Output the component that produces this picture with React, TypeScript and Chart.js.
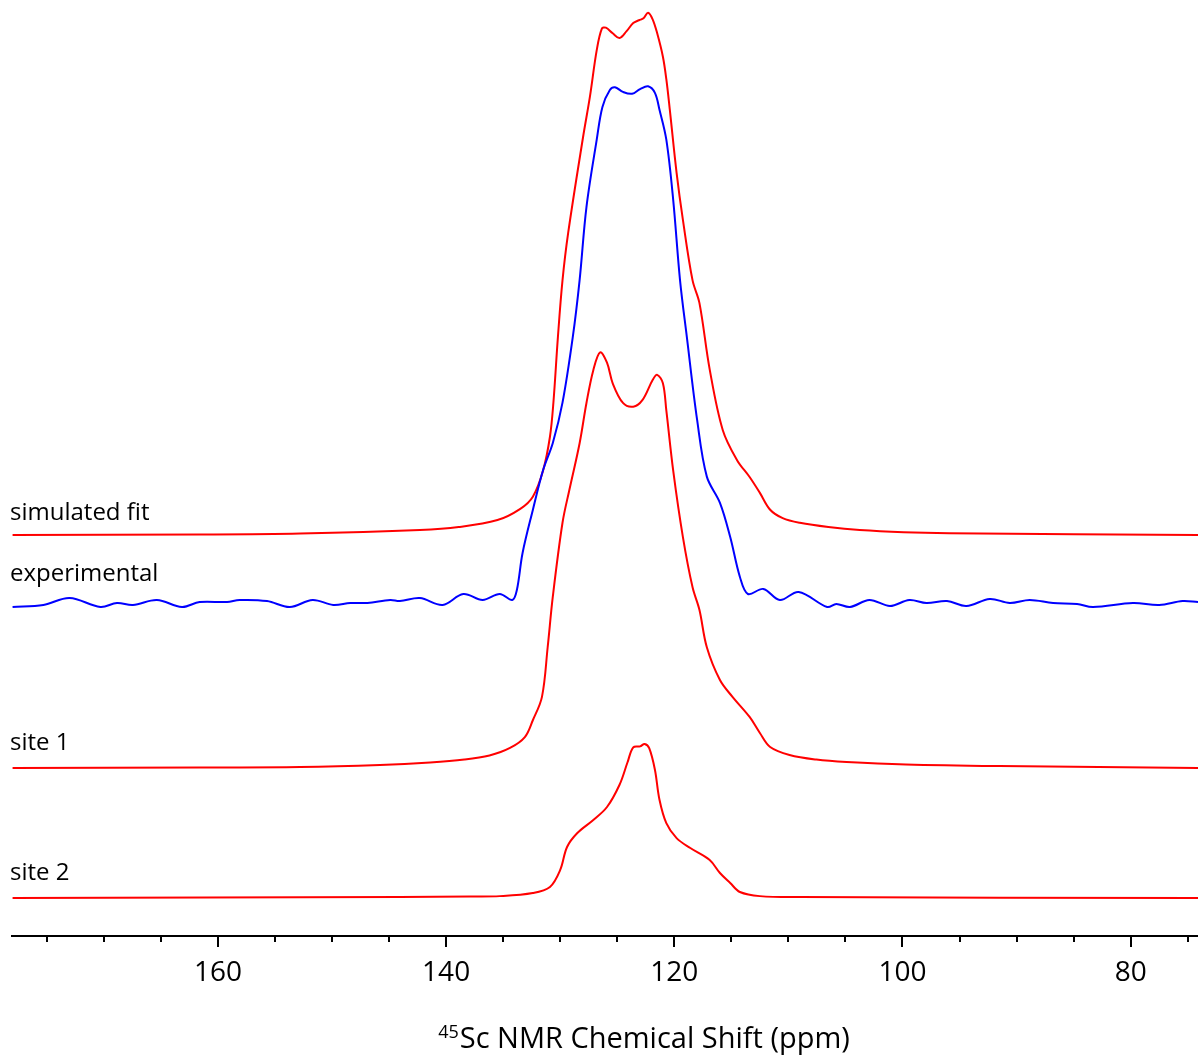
import React, { useEffect, useRef } from 'react';
import { Chart, registerables } from 'chart.js';

Chart.register(...registerables);

// Axis range (ppm), reversed as in NMR convention
const X_LEFT = 178.05;
const X_RIGHT = 74.1;
const MAJOR_TICKS = [160, 140, 120, 100, 80];
const MINOR_STEP = 5;

// Vertical offsets of the stacked traces (arbitrary intensity units, 0..100 plot)
const SIM_OFFSET = 42.84;
const EXP_OFFSET = 35.58;
const S1_OFFSET = 17.95;
const S2_OFFSET = 4.06;

// simulated fit
const SIM_PPM = [178.0, 161.6, 152.8, 142.3, 138.9, 135.5, 133.5, 132.4, 131.5, 130.9, 130.6, 130.2, 129.8, 129.3, 128.0, 127.4, 126.8, 126.35, 126.0, 125.4, 124.8, 124.2, 123.6, 123.1, 122.7, 122.3, 121.9, 121.5, 121.0, 120.7, 120.4, 119.8, 119.25, 118.4, 117.8, 116.9, 115.75, 114.5, 113.4, 112.5, 111.6, 110.5, 109.0, 106.5, 103.75, 99.9, 95.9, 74.1];
const SIM_INT = [0, 0.05, 0.15, 0.53, 0.85, 1.6, 2.8, 4.1, 6.9, 10.5, 14.1, 21.2, 27.2, 32.3, 42.5, 46.8, 51.8, 54.1, 54.2, 53.6, 53.1, 53.8, 54.7, 55.0, 55.2, 55.8, 55.1, 53.6, 51.1, 48.7, 45.5, 38.7, 33.7, 27.2, 24.8, 17.7, 11.2, 8.0, 6.2, 4.5, 2.7, 1.8, 1.3, 0.85, 0.53, 0.3, 0.2, 0];

// experimental
const EXP_PPM = [178.0, 175.3, 173.0, 170.3, 168.85, 167.45, 165.35, 163.15, 161.6, 159.2, 158.1, 155.7, 153.7, 151.7, 149.9, 148.4, 146.9, 144.9, 144.05, 142.3, 140.3, 138.5, 136.8, 135.3, 134.2, 133.8, 133.3, 132.4, 131.5, 130.65, 129.8, 128.9, 128.3, 127.7, 126.8, 126.3, 125.65, 125.2, 124.5, 123.7, 123.0, 122.3, 121.7, 121.3, 120.7, 120.1, 119.5, 118.9, 118.0, 117.15, 116.0, 115.1, 114.25, 113.55, 112.2, 110.75, 109.1, 106.6, 105.8, 104.6, 102.9, 101.1, 99.4, 97.9, 96.1, 94.4, 92.35, 90.6, 88.85, 86.8, 84.7, 83.3, 79.8, 77.5, 75.45, 74.1];
const EXP_INT = [-0.43, -0.21, 0.53, -0.43, 0, -0.21, 0.32, -0.43, 0.1, 0.1, 0.32, 0.21, -0.43, 0.32, -0.21, 0, 0, 0.32, 0.21, 0.53, -0.21, 0.96, 0.32, 0.96, 0.32, 1.39, 5.34, 9.94, 14.2, 17.1, 21.4, 28.4, 34.5, 42.3, 49.5, 53.0, 54.8, 55.1, 54.6, 54.4, 54.9, 55.2, 54.5, 52.7, 49.5, 43.1, 34.5, 28.4, 19.55, 13.5, 10.7, 7.05, 2.78, 0.96, 1.5, 0.32, 1.18, -0.43, -0.1, -0.43, 0.32, -0.32, 0.32, 0, 0.21, -0.32, 0.43, 0, 0.32, 0, -0.1, -0.43, 0, -0.21, 0.21, 0.1];

// site 1
const S1_PPM = [178.0, 161.6, 152.8, 145.8, 141.4, 138.4, 136.2, 134.4, 133.1, 132.4, 131.6, 131.1, 130.65, 129.8, 129.2, 128.3, 127.7, 127.1, 126.5, 125.9, 125.4, 124.5, 123.6, 122.8, 121.9, 121.5, 121.0, 120.7, 120.1, 119.25, 118.4, 117.8, 117.15, 116.0, 114.9, 113.4, 112.5, 111.6, 109.9, 107.55, 104.9, 99.7, 91.5, 74.1];
const S1_INT = [0, 0.05, 0.1, 0.32, 0.59, 0.9, 1.34, 2.14, 3.3, 5.1, 7.6, 12.9, 18.3, 26.2, 29.7, 34.7, 39.0, 42.5, 44.4, 43.3, 41.1, 39.0, 38.6, 39.3, 41.45, 42.0, 41.1, 38.2, 31.8, 24.7, 19.3, 16.9, 12.9, 9.4, 7.6, 5.45, 3.74, 2.24, 1.39, 0.9, 0.64, 0.37, 0.2, 0];

// site 2
const S2_PPM = [178.0, 144.05, 137.9, 135.3, 132.4, 130.9, 130.0, 129.4, 128.5, 127.1, 125.9, 124.8, 124.1, 123.6, 123.0, 122.6, 122.2, 121.7, 121.3, 120.7, 119.8, 118.6, 116.9, 116.0, 115.1, 114.25, 112.5, 109.0, 74.1];
const S2_INT = [0, 0.1, 0.16, 0.2, 0.53, 1.18, 3.0, 5.45, 6.94, 8.33, 9.72, 12.1, 14.5, 16.1, 16.2, 16.45, 16.0, 13.7, 10.5, 8.0, 6.4, 5.34, 4.06, 2.67, 1.6, 0.64, 0.2, 0.1, 0];

const TRACE_LABELS = ['simulated fit', 'experimental', 'site 1', 'site 2'];
const AXIS_TITLE_SUP = '45';
const AXIS_TITLE_MAIN = 'Sc NMR Chemical Shift (ppm)';

const FONT = '"Open Sans", "Noto Sans", "DejaVu Sans", sans-serif';
const RED = '#ff0000';
const BLUE = '#0000ff';

function toPoints(ppm: number[], ints: number[], offset: number) {
  return ppm.map((p, i) => ({ x: p, y: ints[i] + offset }));
}

const decorPlugin = {
  id: 'nmrDecor',
  afterDraw(chart: any) {
    const ctx: CanvasRenderingContext2D = chart.ctx;
    const xs = chart.scales.x;
    const ys = chart.scales.y;
    const axisY = chart.chartArea.bottom;
    ctx.save();
    // tick marks
    ctx.strokeStyle = '#000';
    ctx.lineWidth = 2;
    const start = Math.ceil(X_RIGHT / MINOR_STEP) * MINOR_STEP;
    for (let v = start; v <= X_LEFT; v += MINOR_STEP) {
      const px = Math.round(xs.getPixelForValue(v));
      const len = MAJOR_TICKS.includes(v) ? 11 : 6;
      ctx.beginPath();
      ctx.moveTo(px, axisY);
      ctx.lineTo(px, axisY + len);
      ctx.stroke();
    }
    // axis title with superscript
    ctx.fillStyle = '#000';
    ctx.textBaseline = 'alphabetic';
    ctx.textAlign = 'left';
    const supFont = `18px ${FONT}`;
    const mainFont = `29px ${FONT}`;
    ctx.font = supFont;
    const wSup = ctx.measureText(AXIS_TITLE_SUP).width;
    ctx.font = mainFont;
    const wMain = ctx.measureText(AXIS_TITLE_MAIN).width;
    const total = wSup + 1 + wMain;
    const cx = (chart.chartArea.left + chart.chartArea.right) / 2 + 39;
    const x0 = cx - total / 2;
    const base = axisY + 112;
    ctx.font = supFont;
    ctx.fillText(AXIS_TITLE_SUP, x0, base - 10);
    ctx.font = mainFont;
    ctx.fillText(AXIS_TITLE_MAIN, x0 + wSup + 1, base);
    // trace labels
    ctx.font = `24px ${FONT}`;
    const offs = [SIM_OFFSET, EXP_OFFSET, S1_OFFSET, S2_OFFSET];
    const dys = [-15, -22, -18, -18];
    TRACE_LABELS.forEach((t, i) => {
      ctx.fillText(t, 10, ys.getPixelForValue(offs[i]) + dys[i]);
    });
    ctx.restore();
  },
};

export default function App() {
  const ref = useRef<HTMLCanvasElement>(null);
  useEffect(() => {
    const canvas = ref.current;
    if (!canvas) return;
    const chart = new Chart(canvas, {
      type: 'line',
      data: {
        datasets: [
          { label: 'site 2', data: toPoints(S2_PPM, S2_INT, S2_OFFSET), borderColor: RED },
          { label: 'site 1', data: toPoints(S1_PPM, S1_INT, S1_OFFSET), borderColor: RED },
          { label: 'experimental', data: toPoints(EXP_PPM, EXP_INT, EXP_OFFSET), borderColor: BLUE },
          { label: 'simulated fit', data: toPoints(SIM_PPM, SIM_INT, SIM_OFFSET), borderColor: RED },
        ],
      },
      options: {
        animation: false,
        responsive: false,
        events: [],
        layout: { padding: { left: 12, right: 0, top: 0, bottom: 0 } },
        plugins: { legend: { display: false }, tooltip: { enabled: false }, title: { display: false } },
        elements: {
          point: { radius: 0, hoverRadius: 0 },
          line: { borderWidth: 2, tension: 0.35, fill: false },
        },
        scales: {
          x: {
            type: 'linear',
            reverse: true,
            min: X_RIGHT,
            max: X_LEFT,
            grid: { display: false, drawTicks: false },
            border: { display: true, color: '#000', width: 2 },
            ticks: {
              color: '#000',
              font: { family: FONT, size: 28 },
              padding: 20,
              maxRotation: 0,
              autoSkip: false,
              callback: (v: any) => String(v),
            },
            afterBuildTicks: (s: any) => {
              s.ticks = MAJOR_TICKS.map((v) => ({ value: v }));
            },
            afterFit: (s: any) => {
              s.height = 121;
            },
          },
          y: { type: 'linear', display: false, min: 0, max: 100 },
        },
      },
      plugins: [decorPlugin],
    });
    return () => chart.destroy();
  }, []);
  return (
    <div style={{ position: 'absolute', left: 0, top: 0, width: 1198, height: 1057, background: '#fff' }}>
      <canvas ref={ref} width={1198} height={1057} style={{ display: 'block', width: 1198, height: 1057 }} />
    </div>
  );
}
